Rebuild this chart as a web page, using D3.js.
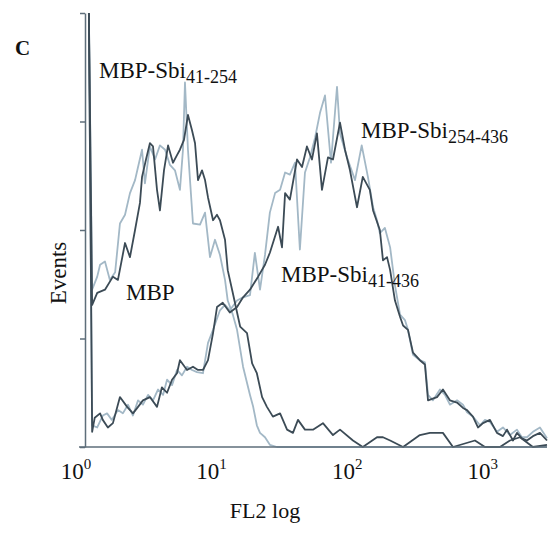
<!DOCTYPE html>
<html>
<head>
<meta charset="utf-8">
<script src="https://cdn.jsdelivr.net/npm/d3@7/dist/d3.min.js"></script>
<style>
  html, body { margin: 0; padding: 0; background: #ffffff; }
  svg { display: block; }
  text { font-family: "Liberation Serif", "DejaVu Serif", serif; fill: #111; }
</style>
</head>
<body>
<svg id="chart" width="557" height="539"></svg>
<script>
// ---- data (FL2 fluorescence, event count) ----
const xTickValues = [1, 10, 100, 1000];
const xTickExponents = ["0", "1", "2", "3"];
const yTickValues = [0, 100, 200, 300, 400];

// MBP-Sbi41-254 (light grey-blue, left peak)
const mbpSbi41_254 = [
  [1.05,400],[1.11,145],[1.21,157],[1.27,168],[1.38,171],[1.50,154],[1.64,161],[1.78,206],
  [1.94,214],[2.11,234],[2.30,246],[2.42,258],[2.59,274],[2.72,243],[2.96,277],[3.23,265],
  [3.51,278],[3.83,274],[4.16,260],[4.53,255],[4.93,237],[5.19,274],[5.37,336],[5.65,274],
  [6.15,206],[6.93,205],[7.55,216],[8.21,175],[8.94,191],[9.73,177],[10.6,154],[11.1,135],
  [12.1,122],[13.0,108],[14.4,74],[16.2,48],[17.1,37],[18.2,20],[19.2,13],[20.9,9],
  [22.7,2],[25.6,0],[37.8,0],[2512,0]
];
// MBP (dark, left peak)
const mbp = [
  [1.05,400],[1.11,131],[1.21,142],[1.38,145],[1.58,157],[1.72,154],[1.94,188],[2.11,175],
  [2.30,200],[2.50,225],[2.59,249],[2.77,265],[2.96,280],[3.12,277],[3.34,237],[3.51,218],
  [3.76,255],[4.03,278],[4.38,262],[4.69,269],[4.93,274],[5.28,283],[5.65,306],[6.05,292],
  [6.37,280],[6.70,246],[7.17,255],[7.55,246],[7.94,230],[8.65,209],[9.25,214],[9.73,209],
  [10.6,191],[11.1,163],[12.1,142],[13.7,111],[15.4,105],[16.8,77],[18.2,68],[19.9,46],
  [21.6,37],[23.9,28],[27.0,31],[30.4,16],[33.6,13],[36.6,25],[41.2,16],[47.2,16],
  [55.9,22],[66.3,11],[74.7,16],[93.1,6],[110,0],[140,9],[155,9],[175,6],[218,0],
  [290,11],[344,13],[429,13],[509,0],[739,6],[876,0],[1130,0],[1339,6],[1588,9],
  [1978,0],[2512,2]
];
// MBP-Sbi254-436 (light grey-blue, right peak)
const mbpSbi254_436 = [
  [1.05,400],[1.11,20],[1.21,18],[1.33,29],[1.43,31],[1.55,25],[1.72,34],[1.87,31],
  [2.04,39],[2.22,29],[2.42,43],[2.63,39],[2.87,48],[3.12,43],[3.40,53],[3.70,48],
  [3.96,62],[4.31,57],[4.69,71],[5.10,66],[5.56,74],[6.05,71],[6.59,69],[7.29,68],
  [7.94,96],[8.65,108],[9.73,126],[10.6,131],[11.5,126],[13.0,135],[14.4,138],[16.2,140],
  [17.6,179],[19.2,145],[20.9,177],[22.7,216],[24.8,234],[27.0,237],[29.4,253],[31.9,251],
  [34.8,262],[37.8,182],[41.2,253],[44.9,267],[48.9,285],[53.2,308],[57.9,324],[64.1,262],
  [71.0,332],[74.7,289],[84.1,267],[96.4,246],[108,278],[120,249],[131,221],[140,209],
  [147,197],[160,202],[175,184],[190,149],[207,122],[225,117],[237,108],[258,85],
  [290,80],[316,78],[333,48],[362,43],[408,53],[444,48],[483,39],[545,43],[603,39],
  [646,32],[714,28],[805,20],[876,25],[953,23],[1074,14],[1189,18],[1339,11],[1508,16],
  [1641,9],[1788,9],[1978,14],[2228,18],[2512,8]
];
// MBP-Sbi41-436 (dark, right peak)
const mbpSbi41_436 = [
  [1.05,400],[1.11,14],[1.16,27],[1.27,31],[1.33,25],[1.45,18],[1.58,22],[1.78,46],
  [2.01,37],[2.22,31],[2.42,37],[2.63,43],[2.96,46],[3.34,37],[3.63,55],[3.96,50],
  [4.31,62],[4.69,68],[4.93,80],[5.56,71],[6.15,74],[6.70,71],[7.29,71],[7.94,80],
  [8.65,105],[9.25,129],[10.2,133],[11.5,124],[13.0,129],[14.4,138],[16.2,145],[18.6,157],
  [20.9,168],[22.7,179],[26.1,203],[27.9,184],[29.4,234],[31.9,228],[36.0,265],[39.2,258],
  [42.6,277],[46.4,265],[50.5,289],[55.0,237],[60.9,267],[66.3,265],[74.7,299],[81.3,274],
  [88.5,255],[99.7,221],[110,249],[124,237],[131,218],[147,200],[155,172],[166,175],
  [175,163],[190,135],[207,120],[218,112],[237,108],[258,87],[290,80],[316,76],[333,43],
  [388,46],[429,53],[483,43],[545,41],[603,36],[646,34],[714,28],[778,18],[847,22],
  [953,25],[1074,13],[1189,10],[1273,16],[1410,6],[1508,13],[1641,8],[1788,6],[1978,10],
  [2228,13],[2512,6]
];

const seriesList = [
  { name: "MBP-Sbi41-254", values: mbpSbi41_254, color: "#a3b8c6" },
  { name: "MBP-Sbi254-436", values: mbpSbi254_436, color: "#a3b8c6" },
  { name: "MBP", values: mbp, color: "#3c4b56" },
  { name: "MBP-Sbi41-436", values: mbpSbi41_436, color: "#3c4b56" }
];

// ---- drawing ----
const svg = d3.select("#chart");
const x = d3.scaleLog().domain([1, 2512]).range([86, 547]);
const y = d3.scaleLinear().domain([0, 400]).range([447, 13]);

const axisColor = "#5e6e7a";

// curves
const line = d3.line().x(d => x(d[0])).y(d => y(d[1]));
svg.append("g").selectAll("path")
  .data(seriesList)
  .join("path")
  .attr("d", d => line(d.values))
  .attr("fill", "none")
  .attr("stroke", d => d.color)
  .attr("stroke-width", 1.8)
  .attr("stroke-linejoin", "round");

// y axis
const yAxis = svg.append("g")
  .attr("transform", `translate(${x.range()[0] - 1},0)`)
  .call(d3.axisLeft(y).tickValues(yTickValues).tickSize(5).tickSizeOuter(0).tickFormat(""));
yAxis.selectAll("path, line").attr("stroke", axisColor).attr("stroke-width", 1.5);

// x axis
const xAxis = svg.append("g")
  .attr("transform", `translate(0,${y(0)})`)
  .call(d3.axisBottom(x).tickValues(xTickValues).tickSize(0).tickSizeOuter(0).tickFormat(""));
xAxis.select("path").remove();
svg.append("line")
  .attr("x1", x.range()[0] - 7).attr("x2", x.range()[1])
  .attr("y1", y(0)).attr("y2", y(0))
  .attr("stroke", axisColor).attr("stroke-width", 1.5);

// x tick labels 10^n
const tl = svg.append("g").selectAll("text")
  .data(xTickValues)
  .join("text")
  .attr("x", d => x(d) - 10)
  .attr("y", 479)
  .attr("text-anchor", "middle")
  .attr("font-size", 23);
tl.append("tspan").text("10");
tl.append("tspan").attr("dy", -10).attr("font-size", 15).text((d, i) => xTickExponents[i]);

// axis titles
svg.append("text")
  .attr("x", 265).attr("y", 518)
  .attr("text-anchor", "middle")
  .attr("font-size", 22)
  .text("FL2 log");

svg.append("text")
  .attr("transform", "translate(66,273) rotate(-90)")
  .attr("text-anchor", "middle")
  .attr("font-size", 23)
  .text("Events");

// panel letter
svg.append("text")
  .attr("x", 15).attr("y", 55)
  .attr("font-size", 21)
  .attr("font-weight", "bold")
  .text("C");

// curve labels
const labels = [
  { main: "MBP-Sbi", sub: "41-254", x: 99, y: 78 },
  { main: "MBP-Sbi", sub: "254-436", x: 361, y: 138 },
  { main: "MBP", sub: "", x: 126, y: 300 },
  { main: "MBP-Sbi", sub: "41-436", x: 281, y: 282 }
];
const lg = svg.append("g").selectAll("text")
  .data(labels)
  .join("text")
  .attr("x", d => d.x)
  .attr("y", d => d.y)
  .attr("font-size", 23);
lg.append("tspan").text(d => d.main);
lg.append("tspan").attr("dy", 5).attr("font-size", 18).text(d => d.sub);
</script>
</body>
</html>
